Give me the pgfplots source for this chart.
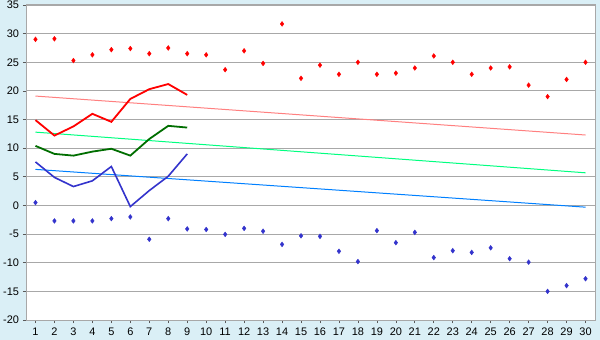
\documentclass[border=0pt]{standalone}
\usepackage{fontspec}
\setmainfont{Liberation Sans}
\usepackage{pgfplots}
\pgfplotsset{compat=1.18}
\definecolor{bgblue}{RGB}{218,239,246}
\definecolor{gridgray}{RGB}{168,168,168}
\definecolor{maxred}{RGB}{255,0,0}
\definecolor{minblue}{RGB}{51,51,204}
\definecolor{dkgreen}{RGB}{0,110,0}
\definecolor{trred}{RGB}{255,128,128}
\definecolor{trgreen}{RGB}{0,255,128}
\definecolor{trblue}{RGB}{0,128,255}
\begin{document}
\begin{tikzpicture}
\fill[bgblue] (-26bp,-20bp) rectangle (574bp,320bp);
\begin{axis}[
  scale only axis, width=569bp, height=315bp,
  xmin=0.5, xmax=30.5, ymin=-20, ymax=35,
  axis background/.style={fill=white},
  xtick={1,...,30},
  ytick={-20,-15,-10,-5,0,5,10,15,20,25,30,35},
  yticklabels={-20,-15,-10,-5,0,5,10,15,20,25,30,35},
  ymajorgrids, grid style={gridgray, line width=0.9bp},
  axis line style={gridgray, line width=1bp},
  tick align=outside, xtick pos=bottom, ytick pos=left,
  major tick length=3bp, tick style={black!65, line width=0.7bp},
  ticklabel style={font=\fontsize{11}{13}\selectfont},
  /pgf/number format/assume math mode=true,
  xticklabel style={yshift=-1.5bp},
  yticklabel style={xshift=-0.5bp},
]
% trend lines
\addplot[trred, line width=1bp] coordinates {(1,19.1) (30,12.3)};
\addplot[trgreen, line width=1bp] coordinates {(1,12.8) (30,5.7)};
\addplot[trblue, line width=1bp] coordinates {(1,6.3) (30,-0.3)};
% daily lines
\addplot[maxred, line width=1.8bp] coordinates {
(1,14.9) (2,12.2) (3,13.8) (4,16.0) (5,14.6) (6,18.6) (7,20.3) (8,21.2) (9,19.3)};
\addplot[dkgreen, line width=1.8bp] coordinates {
(1,10.4) (2,9.0) (3,8.7) (4,9.4) (5,9.9) (6,8.7) (7,11.6) (8,13.9) (9,13.6)};
\addplot[minblue, line width=1.6bp] coordinates {
(1,7.6) (2,4.9) (3,3.3) (4,4.3) (5,6.8) (6,-0.2) (7,2.6) (8,5.1) (9,9.0)};
% max markers
\addplot[only marks, mark=diamond*, mark size=2.4bp, maxred, mark options={fill=maxred, draw=maxred}] coordinates {
(1,29.0) (2,29.1) (3,25.3) (4,26.3) (5,27.2) (6,27.4) (7,26.5) (8,27.5) (9,26.5) (10,26.3)
(11,23.7) (12,27.0) (13,24.8) (14,31.7) (15,22.2) (16,24.5) (17,22.9) (18,25.0) (19,22.9) (20,23.1)
(21,24.0) (22,26.1) (23,25.0) (24,22.9) (25,24.0) (26,24.2) (27,21.0) (28,19.0) (29,22.0) (30,25.0)};
% min markers
\addplot[only marks, mark=diamond*, mark size=2.4bp, minblue, mark options={fill=minblue, draw=minblue}] coordinates {
(1,0.5) (2,-2.7) (3,-2.7) (4,-2.7) (5,-2.3) (6,-2.0) (7,-5.9) (8,-2.3) (9,-4.1) (10,-4.2)
(11,-5.05) (12,-4.0) (13,-4.5) (14,-6.8) (15,-5.3) (16,-5.4) (17,-8.0) (18,-9.8) (19,-4.4) (20,-6.5)
(21,-4.7) (22,-9.1) (23,-7.9) (24,-8.2) (25,-7.4) (26,-9.3) (27,-9.9) (28,-15.0) (29,-14.0) (30,-12.8)};
\end{axis}
\pgfresetboundingbox
\path[use as bounding box] (-26bp,-20bp) rectangle (574bp,320bp);
\end{tikzpicture}
\end{document}
